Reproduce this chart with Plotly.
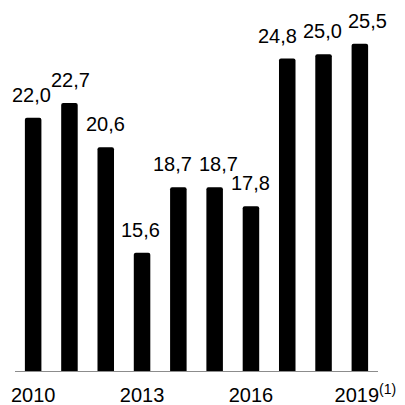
import plotly.graph_objects as go

years = [2010, 2011, 2012, 2013, 2014, 2015, 2016, 2017, 2018, 2019]
values = [22.0, 22.7, 20.6, 15.6, 18.7, 18.7, 17.8, 24.8, 25.0, 25.5]
tick_years = [2010, 2013, 2016, 2019]
tick_labels = ["2010", "2013", "2016", "&nbsp;&nbsp;2019<sup>(1)</sup>"]

# small horizontal nudges (px) of the value labels, as in the reference
label_nudge = [-2, 1, 0, -2, -6, 4, 0, -10, -1, 8]

FONT = "Liberation Sans, Arial, sans-serif"
FS = 20

fig = go.Figure(
    go.Bar(
        x=years,
        y=values,
        marker=dict(color="#000000", line=dict(width=0), cornerradius=2),
        hoverinfo="x+y",
    )
)

for yr, v, dx in zip(years, values, label_nudge):
    fig.add_annotation(
        x=yr, y=v, text=f"{v:.1f}".replace(".", ","),
        showarrow=False, yanchor="bottom", xanchor="center",
        yshift=10, xshift=dx,
        font=dict(family=FONT, size=FS, color="#000000"),
    )

fig.update_layout(
    width=405, height=405,
    margin=dict(l=15, r=27, t=10, b=34, autoexpand=False),
    paper_bgcolor="white", plot_bgcolor="white",
    bargap=0.545,
    showlegend=False,
    font=dict(family=FONT, size=FS, color="#000000"),
    xaxis=dict(
        range=[2009.5, 2019.5], automargin=False,
        tickmode="array", tickvals=tick_years, ticktext=tick_labels,
        showgrid=False, zeroline=False,
        showline=True, linecolor="#8c8c8c", linewidth=1,
        ticks="", ticklabelstandoff=6,
        tickfont=dict(family=FONT, size=FS, color="#000000"),
    ),
    yaxis=dict(
        range=[10, 27.1], automargin=False,
        visible=False, showgrid=False, zeroline=False,
    ),
)

fig.write_html(
    "out.html",
    config={"displayModeBar": False},
    post_script="document.body.style.margin='0';document.body.style.overflow='hidden';",
)
